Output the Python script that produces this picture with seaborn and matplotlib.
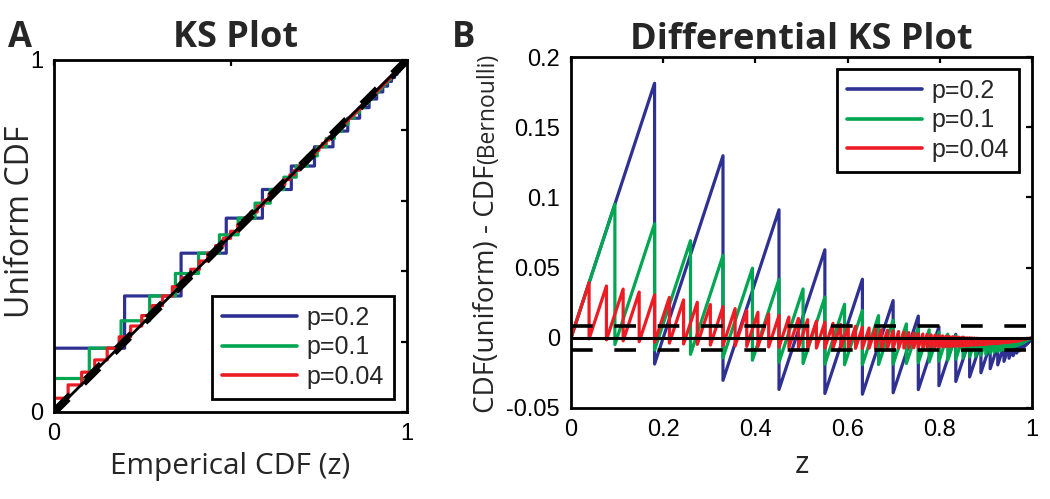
import numpy as np
import pandas as pd
import matplotlib
matplotlib.use("Agg")
import matplotlib.pyplot as plt
import seaborn as sns

# rescaled spike times z at each jump, and the empirical (Bernoulli) CDF level after the jump
z_p02 = [0.1813, 0.3297, 0.4512, 0.5507, 0.6321, 0.6988, 0.7534, 0.7981, 0.8347, 0.8647,
         0.8892, 0.9093, 0.9257, 0.9392, 0.9502, 0.9592, 0.9666, 0.9727, 0.9776, 0.9817,
         0.9850, 0.9877, 0.9899, 0.9918, 0.9933, 0.9945, 0.9955, 0.9963, 0.9970, 0.9975]
cdf_p02 = [0.2000, 0.3600, 0.4880, 0.5904, 0.6723, 0.7379, 0.7903, 0.8322, 0.8658, 0.8926,
           0.9141, 0.9313, 0.9450, 0.9560, 0.9648, 0.9719, 0.9775, 0.9820, 0.9856, 0.9885,
           0.9908, 0.9926, 0.9941, 0.9953, 0.9962, 0.9970, 0.9976, 0.9981, 0.9985, 0.9988]

z_p01 = [0.0952, 0.1813, 0.2592, 0.3297, 0.3935, 0.4512, 0.5034, 0.5507, 0.5934, 0.6321,
         0.6671, 0.6988, 0.7275, 0.7534, 0.7769, 0.7981, 0.8173, 0.8347, 0.8504, 0.8647,
         0.8775, 0.8892, 0.8997, 0.9093, 0.9179, 0.9257, 0.9328, 0.9392, 0.9450, 0.9502,
         0.9550, 0.9592, 0.9631, 0.9666, 0.9698, 0.9727, 0.9753, 0.9776, 0.9798, 0.9817]
cdf_p01 = [0.1000, 0.1900, 0.2710, 0.3439, 0.4095, 0.4686, 0.5217, 0.5695, 0.6126, 0.6513,
           0.6862, 0.7176, 0.7458, 0.7712, 0.7941, 0.8147, 0.8332, 0.8499, 0.8649, 0.8784,
           0.8906, 0.9015, 0.9114, 0.9202, 0.9282, 0.9354, 0.9419, 0.9477, 0.9529, 0.9576,
           0.9618, 0.9657, 0.9691, 0.9722, 0.9750, 0.9775, 0.9797, 0.9818, 0.9836, 0.9852]

z_p004 = [0.0392, 0.0769, 0.1131, 0.1479, 0.1813, 0.2134, 0.2442, 0.2739, 0.3023, 0.3297,
          0.3560, 0.3812, 0.4055, 0.4288, 0.4512, 0.4727, 0.4934, 0.5133, 0.5323, 0.5507,
          0.5683, 0.5852, 0.6015, 0.6171, 0.6321, 0.6466, 0.6604, 0.6737, 0.6865, 0.6988,
          0.7106, 0.7220, 0.7329, 0.7433, 0.7534, 0.7631, 0.7724, 0.7813, 0.7899, 0.7981,
          0.8060, 0.8136, 0.8209, 0.8280, 0.8347, 0.8412, 0.8474, 0.8534, 0.8591, 0.8647,
          0.8700, 0.8751, 0.8800, 0.8847, 0.8892, 0.8935, 0.8977, 0.9017, 0.9056, 0.9093,
          0.9128, 0.9163, 0.9195, 0.9227, 0.9257, 0.9286, 0.9314, 0.9341, 0.9367, 0.9392,
          0.9416, 0.9439, 0.9461, 0.9482, 0.9502, 0.9522, 0.9540, 0.9558, 0.9576, 0.9592,
          0.9608, 0.9624, 0.9638, 0.9653, 0.9666, 0.9679, 0.9692, 0.9704, 0.9716, 0.9727]
cdf_p004 = [0.0400, 0.0784, 0.1153, 0.1507, 0.1846, 0.2172, 0.2486, 0.2786, 0.3075, 0.3352,
            0.3618, 0.3873, 0.4118, 0.4353, 0.4579, 0.4796, 0.5004, 0.5204, 0.5396, 0.5580,
            0.5757, 0.5927, 0.6089, 0.6246, 0.6396, 0.6540, 0.6679, 0.6811, 0.6939, 0.7061,
            0.7179, 0.7292, 0.7400, 0.7504, 0.7604, 0.7700, 0.7792, 0.7880, 0.7965, 0.8046,
            0.8124, 0.8200, 0.8272, 0.8341, 0.8407, 0.8471, 0.8532, 0.8591, 0.8647, 0.8701,
            0.8753, 0.8803, 0.8851, 0.8897, 0.8941, 0.8983, 0.9024, 0.9063, 0.9100, 0.9136,
            0.9171, 0.9204, 0.9236, 0.9267, 0.9296, 0.9324, 0.9351, 0.9377, 0.9402, 0.9426,
            0.9449, 0.9471, 0.9492, 0.9512, 0.9532, 0.9551, 0.9569, 0.9586, 0.9602, 0.9618,
            0.9634, 0.9648, 0.9662, 0.9676, 0.9689, 0.9701, 0.9713, 0.9725, 0.9736, 0.9746]

labels = ["p=0.2", "p=0.1", "p=0.04"]
colors = ["#2e3192", "#00a651", "#ed1c24"]
ks_bound = 0.0085   # 95% KS confidence band half-width

W, H = 1050, 499
label_font = "Open Sans"


def build_curves(z, cdf, label):
    z = np.asarray(z)
    cdf = np.asarray(cdf)
    cdf_prev = np.concatenate([[0.0], cdf[:-1]])
    zz = np.repeat(z, 2)
    ff = np.column_stack([cdf_prev, cdf]).ravel()
    return pd.DataFrame({
        "ecdf": np.concatenate([[0.0], ff, [1.0]]),
        "ucdf": np.concatenate([[0.0], zz, [1.0]]),
        "z": np.concatenate([[0.0], zz, [1.0]]),
        "diff": np.concatenate([[0.0], zz - ff, [0.0]]),
        "p": label,
    })


curves = pd.concat([
    build_curves(z_p02, cdf_p02, labels[0]),
    build_curves(z_p01, cdf_p01, labels[1]),
    build_curves(z_p004, cdf_p004, labels[2]),
], ignore_index=True)

sns.set_theme(style="white")
plt.rcParams["font.family"] = ["Liberation Sans", "DejaVu Sans"]

fig = plt.figure(figsize=(W / 100, H / 100), dpi=100)
ax1 = fig.add_axes([54 / W, 1 - 412 / H, 353 / W, 352 / H])
ax2 = fig.add_axes([571 / W, 1 - 408 / H, 461 / W, 351 / H])


def style_axes(ax):
    for sp in ax.spines.values():
        sp.set_color("black")
        sp.set_linewidth(2.0)
    ax.tick_params(direction="in", length=4, width=1.6, top=True, right=True,
                   labelsize=17, colors="black", pad=8)


def style_legend(ax, loc, anchor):
    sns.move_legend(ax, loc, bbox_to_anchor=anchor, title=None, frameon=True,
                    fancybox=False, framealpha=1, edgecolor="black", fontsize=18,
                    borderpad=0.4, handlelength=3.0, handletextpad=0.4,
                    labelspacing=0.22, borderaxespad=0)
    leg = ax.get_legend()
    leg.get_frame().set_linewidth(2.0)
    for h in leg.legend_handles:
        h.set_linewidth(2.6)


# ---- A: KS plot
sns.lineplot(data=curves, x="ecdf", y="ucdf", hue="p", hue_order=labels,
             palette=colors, estimator=None, sort=False, lw=2.3, ax=ax1)
ax1.plot([0, 1], [0, 1], color="black", lw=2)
ax1.plot([0, 1], [ks_bound, 1 + ks_bound], color="black", lw=2.6, dashes=(6, 6))
ax1.plot([0, 1], [-ks_bound, 1 - ks_bound], color="black", lw=2.6, dashes=(6, 6))
ax1.set_xlim(0, 1)
ax1.set_ylim(0, 1)
ax1.set_xticks([0, 0.5, 1], ["0", "", "1"])
ax1.set_yticks([0, 0.2, 0.4, 0.6, 0.8, 1], ["0", "", "", "", "", "1"])
style_axes(ax1)
ax1.set_xlabel("Emperical CDF (z)", fontsize=21.5, family=label_font, va="center")
ax1.xaxis.set_label_coords(0.5, -0.155)
ax1.set_ylabel("Uniform CDF", fontsize=23, family=label_font, va="center")
ax1.yaxis.set_label_coords(-0.096, 0.54)
style_legend(ax1, "lower right", (0.963, 0.037))

# ---- B: differential KS plot
sns.lineplot(data=curves, x="z", y="diff", hue="p", hue_order=labels,
             palette=colors, estimator=None, sort=False, lw=2.3, ax=ax2)
ax2.axhline(0, color="black", lw=2.2)
ax2.axhline(ks_bound, color="black", lw=2.6, dashes=(6, 6))
ax2.axhline(-ks_bound, color="black", lw=2.6, dashes=(6, 6))
ax2.set_xlim(0, 1)
ax2.set_ylim(-0.05, 0.2)
ax2.set_xticks([0, 0.2, 0.4, 0.6, 0.8, 1], ["0", "0.2", "0.4", "0.6", "0.8", "1"])
ax2.set_yticks([-0.05, 0, 0.05, 0.1, 0.15, 0.2], ["-0.05", "0", "0.05", "0.1", "0.15", "0.2"])
style_axes(ax2)
ax2.set_xlabel("z", fontsize=22, family=label_font, va="center")
ax2.xaxis.set_label_coords(0.5, -0.162)
ax2.set_ylabel("")
style_legend(ax2, "upper right", (0.972, 0.966))

# y label of B: "(Bernoulli)" is set smaller, right after the main part
ylab = fig.text(494 / W, 1 - 413 / H, "CDF(uniform) - CDF", rotation=90,
                rotation_mode="anchor", ha="left", va="baseline",
                fontsize=20, family=label_font)
fig.canvas.draw()
bb = ylab.get_window_extent()
fig.text(494 / W, (bb.y1 + 1) / H, "(Bernoulli)", rotation=90,
         rotation_mode="anchor", ha="left", va="baseline",
         fontsize=16.5, family=label_font)

# titles and panel letters
fig.text((54 + 407) / 2 / W + 0.005, 1 - 47 / H, "KS Plot", ha="center", va="baseline",
         fontsize=26, fontweight="bold", family=label_font)
fig.text((571 + 1032) / 2 / W, 1 - 49 / H, "Differential KS Plot", ha="center",
         va="baseline", fontsize=26, fontweight="bold", family=label_font)
fig.text(8 / W, 1 - 47 / H, "A", ha="left", va="baseline", fontsize=25,
         fontweight="bold", family=label_font)
fig.text(452 / W, 1 - 47 / H, "B", ha="left", va="baseline", fontsize=25,
         fontweight="bold", family=label_font)

fig.savefig("out.png", dpi=100, facecolor="white")
